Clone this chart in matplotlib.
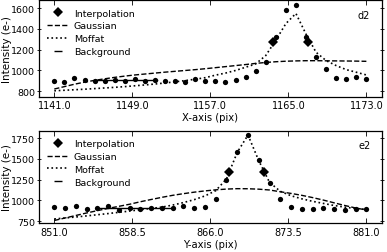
import numpy as np
import matplotlib
matplotlib.use("Agg")
import matplotlib.pyplot as plt
from matplotlib.lines import Line2D

plt.rcParams['font.family'] = ['DejaVu Sans']
plt.rcParams['font.size'] = 7

# ---------------- top panel (d2, X axis) ----------------
x_top = np.linspace(1141, 1173, 32)
data_top = [899, 893, 925, 906, 896, 896, 912, 903, 918, 896, 912, 896, 896, 893,
            918, 903, 903, 887, 906, 938, 992, 1082, 1326, 1582, 1630, 1326, 1133,
            1015, 931, 918, 938, 918]
gauss_top = [822, 845, 868, 888, 905, 920, 934, 946, 957, 966, 975, 984, 992, 1000,
             1008, 1017, 1027, 1037, 1047, 1057, 1068, 1077, 1084, 1089, 1092, 1094,
             1094, 1093, 1092, 1091, 1090, 1088]
moffat_top = [805, 810, 815, 820, 826, 832, 838, 845, 853, 861, 870, 880, 891, 903,
              916, 931, 955, 975, 1000, 1031, 1063, 1143, 1290, 1450, 1548, 1350,
              1175, 1095, 1047, 1008, 983, 957]
interp_x_top = [1163.45, 1167.06]
interp_y_top = [1276, 1276]
bg_x_top = [1145.3, 1151.5]
bg_y_top = [909, 909]
xticks_top = [1141, 1149, 1157, 1165, 1173]
yticks_top = [800, 1000, 1200, 1400, 1600]

# ---------------- bottom panel (e2, Y axis) ----------------
x_bot = np.linspace(851, 881, 30)
data_bot = [922, 906, 938, 898, 914, 930, 890, 910, 902, 914, 910, 910, 930, 914,
            918, 1022, 1250, 1586, 1786, 1486, 1210, 1018, 926, 898, 898, 906, 898,
            882, 898, 898]
gauss_bot = [760, 790, 820, 850, 878, 905, 930, 955, 985, 1012, 1038, 1062, 1082,
             1100, 1115, 1128, 1137, 1142, 1141, 1136, 1126, 1105, 1085, 1062, 1035,
             1005, 972, 940, 910, 886]
moffat_bot = [778, 790, 802, 815, 829, 843, 858, 873, 890, 905, 920, 945, 975, 1010,
              1055, 1118, 1258, 1578, 1786, 1478, 1218, 1110, 1057, 1020, 990, 965,
              940, 920, 904, 892]
interp_x_bot = [867.8, 871.15]
interp_y_bot = [1345, 1345]
bg_x_bot = [855.3, 862.2]
bg_y_bot = [912, 912]
xticks_bot = [851, 858.5, 866, 873.5, 881]
yticks_bot = [750, 1000, 1250, 1500, 1750]

fig = plt.figure(figsize=(3.87, 2.53), dpi=100)
ax1 = fig.add_axes([0.100, 0.6146, 0.887, 0.3814])
ax2 = fig.add_axes([0.100, 0.1134, 0.887, 0.3660])


def draw(ax, x, data, gauss, moffat, ix, iy, bx, by, xticks, yticks, ylim, xlabel, tag):
    ax.plot(x, data, 'o', color='k', markersize=3.8, markeredgewidth=0)
    ax.plot(ix, iy, 'D', color='k', markersize=4.8, markeredgewidth=0)
    ax.plot(x, gauss, '--', color='k', linewidth=1.0)
    ax.plot(x, moffat, ':', color='k', linewidth=1.2)
    ax.plot(bx, by, '-', color='k', linewidth=1.0)
    ax.set_xlim(x[0] - 0.05 * (x[-1] - x[0]), x[-1] + 0.05 * (x[-1] - x[0]))
    ax.set_ylim(*ylim)
    ax.set_xticks(xticks)
    ax.set_xticklabels(['%.1f' % v for v in xticks])
    ax.set_yticks(yticks)
    ax.tick_params(axis='x', direction='in', top=True, length=3.5, width=0.6, pad=2.5, labelsize=7)
    ax.tick_params(axis='y', direction='inout', right=True, length=3.5, width=0.6, pad=0.8, labelsize=6.8)
    ax.set_xlabel(xlabel, fontsize=7.2, labelpad=1.5)
    ax.set_ylabel('Intensity (e-)', fontsize=7.5)
    ax.yaxis.set_label_coords(-0.078, 0.5)
    for s in ax.spines.values():
        s.set_linewidth(0.9)
    handles = [
        Line2D([], [], marker='D', color='k', linestyle='None', markersize=4.8, markeredgewidth=0),
        Line2D([], [], linestyle='--', color='k', linewidth=1.0),
        Line2D([], [], linestyle=':', color='k', linewidth=1.2),
        Line2D([], [], marker='_', color='k', linestyle='None', markersize=6, markeredgewidth=1.0),
    ]
    ax.legend(handles, ['Interpolation', 'Gaussian', 'Moffat', 'Background'],
              loc='upper left', bbox_to_anchor=(0.0, 1.0), frameon=False,
              fontsize=6.8, labelspacing=0.4, handlelength=2.2, handletextpad=0.6,
              borderaxespad=0.5, numpoints=1)
    ax.text(0.966, 0.845, tag, transform=ax.transAxes, ha='right', va='center', fontsize=7)


draw(ax1, x_top, data_top, gauss_top, moffat_top, interp_x_top, interp_y_top,
     bg_x_top, bg_y_top, xticks_top, yticks_top, (750, 1677), 'X-axis (pix)', 'd2')
draw(ax2, x_bot, data_bot, gauss_bot, moffat_bot, interp_x_bot, interp_y_bot,
     bg_x_bot, bg_y_bot, xticks_bot, yticks_bot, (726, 1838), 'Y-axis (pix)', 'e2')

fig.savefig('out.png', dpi=100)
